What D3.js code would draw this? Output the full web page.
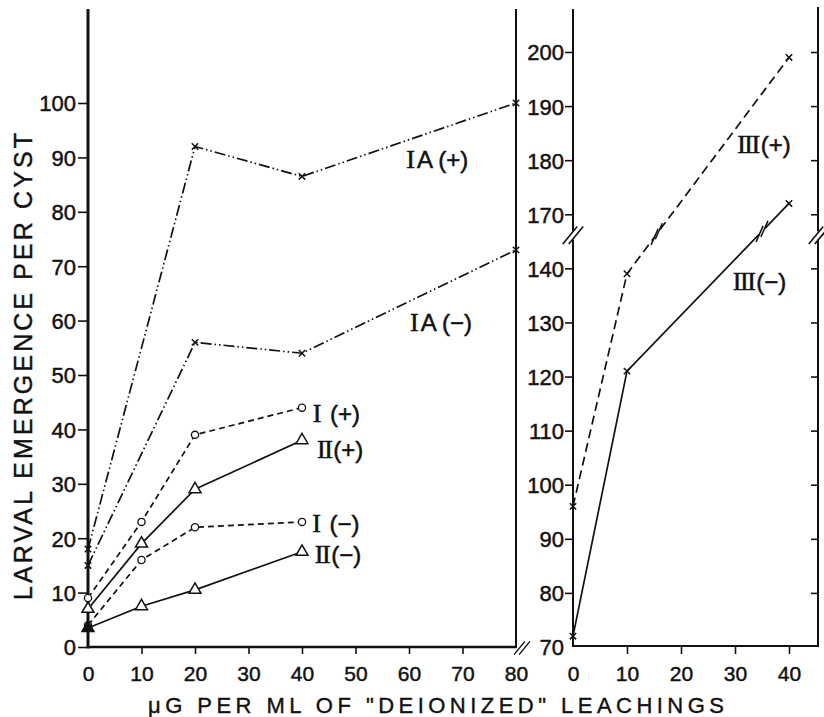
<!DOCTYPE html>
<html>
<head>
<meta charset="utf-8">
<script src="https://cdn.jsdelivr.net/npm/d3@7"></script>
<style>
  html, body { margin: 0; padding: 0; background: #fff; }
  svg { display: block; }
  text { font-family: "Liberation Sans", Arial, sans-serif; fill: #111; }
</style>
</head>
<body>
<svg id="chart" width="824" height="717"></svg>
<script>
// ---------------- data ----------------
const leftXTicks = [0, 10, 20, 30, 40, 50, 60, 70, 80];
const leftYTicks = [0, 10, 20, 30, 40, 50, 60, 70, 80, 90, 100];
const rightXTicks = [0, 10, 20, 30, 40];
const rightYTicks = [70, 80, 90, 100, 110, 120, 130, 140, 170, 180, 190, 200];

const iaDose = [0, 20, 40, 80];
const iaPlus = [18, 92, 86.5, 100];
const iaMinus = [15, 56, 54, 73];

const iDose = [0, 10, 20, 40];
const iPlus = [9, 23, 39, 44];
const iMinus = [4, 16, 22, 23];

const iiDose = [0, 10, 20, 40];
const iiPlus = [7, 19, 29, 38];
const iiMinus = [3.5, 7.5, 10.5, 17.5];

const iiiDose = [0, 10, 40];
const iiiPlus = [96, 139, 199];
const iiiMinus = [72, 121, 172];

const yTitle = "LARVAL EMERGENCE PER CYST";
const xTitle = "\u03bcG PER ML OF \"DEIONIZED\" LEACHINGS";

// ---------------- geometry ----------------
const svg = d3.select("#chart");
const x0L = 88, x1L = 516, yBase = 647;
const xL = d3.scaleLinear().domain([0, 80]).range([x0L, x1L]);
const yL = d3.scaleLinear().domain([0, 100]).range([yBase, 103]);
const xR = d3.scaleLinear().domain([0, 40]).range([573, 789]);
const yRraw = d3.scaleLinear().domain([70, 180]).range([yBase, 52]);
const BREAK_GAP = 20; // values >=170 are shifted down by 20 (axis break 140 -> 170)
const toRaw = v => (v >= 160 ? v - BREAK_GAP : v);
const yR = v => yRraw(toRaw(v));
const rightBorder = 818;
const topY = 9;

const ink = "#111";
const sansFont = "'Liberation Sans', Arial, sans-serif";

// ---------------- axes frames ----------------
svg.append("line").attr("x1", x0L).attr("x2", x0L).attr("y1", topY).attr("y2", yBase + 1.5)
  .attr("stroke", ink).attr("stroke-width", 3);
svg.append("line").attr("x1", x0L).attr("x2", x1L + 1).attr("y1", yBase).attr("y2", yBase)
  .attr("stroke", ink).attr("stroke-width", 2.5);
svg.append("line").attr("x1", xL(80)).attr("x2", xL(80)).attr("y1", topY).attr("y2", yBase)
  .attr("stroke", ink).attr("stroke-width", 2);
svg.append("line").attr("x1", xR(0)).attr("x2", xR(0)).attr("y1", topY).attr("y2", yBase)
  .attr("stroke", ink).attr("stroke-width", 2);
svg.append("line").attr("x1", xR(0)).attr("x2", rightBorder + 1).attr("y1", yBase - 1).attr("y2", yBase - 1)
  .attr("stroke", ink).attr("stroke-width", 2.2);
svg.append("line").attr("x1", rightBorder).attr("x2", rightBorder).attr("y1", topY - 2).attr("y2", yBase)
  .attr("stroke", ink).attr("stroke-width", 2);

// ---------------- ticks & labels via d3 axes ----------------
function styleAxis(g, size) {
  g.select(".domain").remove();
  g.selectAll(".tick line").attr("stroke", ink).attr("stroke-width", 1.6);
  g.selectAll(".tick text").attr("font-size", size).attr("fill", ink)
    .attr("stroke", ink).attr("stroke-width", 0.45)
    .style("font-family", sansFont);
}

const axL = svg.append("g").attr("transform", `translate(${x0L - 1},0)`)
  .call(d3.axisLeft(yL).tickValues(leftYTicks).tickSize(9).tickPadding(2).tickFormat(d3.format("d")));
styleAxis(axL, 22);
axL.selectAll(".tick text").attr("dy", "0.36em");

const axBL = svg.append("g").attr("transform", `translate(0,${yBase})`)
  .call(d3.axisBottom(xL).tickValues(leftXTicks).tickSize(7).tickPadding(12).tickFormat(d3.format("d")));
styleAxis(axBL, 21);
axBL.selectAll(".tick").filter(d => d === 0 || d === 80).select("line").remove();

const rawTicks = rightYTicks.map(toRaw);
const axR = svg.append("g").attr("transform", `translate(${xR(0)},0)`)
  .call(d3.axisLeft(yRraw).tickValues(rawTicks).tickSize(8).tickPadding(1)
    .tickFormat(d => d3.format("d")(d >= 150 ? d + BREAK_GAP : d)));
styleAxis(axR, 22);
axR.selectAll(".tick").filter(d => d === 70).select("line").remove();
axR.selectAll(".tick text").attr("dy", "0.36em");

const axRB = svg.append("g").attr("transform", `translate(${rightBorder},0)`)
  .call(d3.axisRight(yRraw).tickValues(rawTicks.filter(d => d !== 70)).tickSize(-7).tickFormat(""));
styleAxis(axRB, 1);

const axBR = svg.append("g").attr("transform", `translate(0,${yBase})`)
  .call(d3.axisBottom(xR).tickValues(rightXTicks).tickSize(7).tickPadding(12).tickFormat(d3.format("d")));
styleAxis(axBR, 21);
axBR.selectAll(".tick").filter(d => d === 0).select("line").remove();

// ---------------- axis break marks ----------------
function breakMark(cx, cy, len, gap, lw) {
  const g = svg.append("g");
  [-gap / 2, gap / 2].forEach(o => {
    g.append("line")
      .attr("x1", cx + o - len * 0.45).attr("y1", cy + len * 0.55)
      .attr("x2", cx + o + len * 0.45).attr("y2", cy - len * 0.55)
      .attr("stroke", ink).attr("stroke-width", lw);
  });
}
const yBreak = (yRraw(140) + yRraw(150)) / 2 - 6;
svg.append("rect").attr("x", xR(0) - 3).attr("y", yBreak - 4).attr("width", 6).attr("height", 8).attr("fill", "#fff");
breakMark(xR(0), yBreak, 16, 6, 1.6);
svg.append("rect").attr("x", rightBorder - 3).attr("y", yBreak - 4).attr("width", 6).attr("height", 8).attr("fill", "#fff");
breakMark(rightBorder + 1, yBreak, 16, 6, 1.6);
breakMark(xL(80) + 6, yBase + 1, 12, 5, 1.4);

// ---------------- series ----------------
const dashDotDot = "11,3,1.5,3,1.5,3";
const series = [
  { x: iaDose, y: iaPlus, sx: xL, sy: yL, dash: dashDotDot, marker: "x" },
  { x: iaDose, y: iaMinus, sx: xL, sy: yL, dash: dashDotDot, marker: "x" },
  { x: iDose, y: iPlus, sx: xL, sy: yL, dash: "6,4", marker: "o" },
  { x: iDose, y: iMinus, sx: xL, sy: yL, dash: "6,4", marker: "o" },
  { x: iiDose, y: iiPlus, sx: xL, sy: yL, dash: null, marker: "t" },
  { x: iiDose, y: iiMinus, sx: xL, sy: yL, dash: null, marker: "t", filledFirst: true },
  { x: iiiDose, y: iiiPlus, sx: xR, sy: yR, dash: "9,5", marker: "x", breakAt: 15.5 },
  { x: iiiDose, y: iiiMinus, sx: xR, sy: yR, dash: null, marker: "x", breakAt: 35 }
];

const lineGen = d3.line();
series.forEach(s => {
  const pts = s.x.map((xv, i) => [s.sx(xv), s.sy(s.y[i])]);
  svg.append("path").attr("d", lineGen(pts)).attr("fill", "none")
    .attr("stroke", ink).attr("stroke-width", 1.7)
    .attr("stroke-dasharray", s.dash);
  if (s.breakAt !== undefined) {
    const p1 = pts[1], p2 = pts[2];
    const bx = s.sx(s.breakAt);
    const t = (bx - p1[0]) / (p2[0] - p1[0]);
    const by = p1[1] + t * (p2[1] - p1[1]);
    const ang = Math.atan2(p2[1] - p1[1], p2[0] - p1[0]);
    svg.append("rect").attr("x", bx - 4).attr("y", by - 4).attr("width", 8).attr("height", 8)
      .attr("fill", "#fff").attr("transform", `rotate(${ang * 180 / Math.PI},${bx},${by})`);
    const ux = Math.cos(ang), uy = Math.sin(ang);
    [-3.5, 3.5].forEach(o => {
      const cx = bx + ux * o, cy = by + uy * o;
      svg.append("line")
        .attr("x1", cx - 3.5).attr("y1", cy + 8)
        .attr("x2", cx + 3.5).attr("y2", cy - 8)
        .attr("stroke", ink).attr("stroke-width", 1.5);
    });
  }
  pts.forEach((p, i) => {
    if (s.marker === "x") {
      const r = 3.2;
      svg.append("path").attr("d", `M${p[0]-r},${p[1]-r}L${p[0]+r},${p[1]+r}M${p[0]-r},${p[1]+r}L${p[0]+r},${p[1]-r}`)
        .attr("stroke", ink).attr("stroke-width", 1.5).attr("fill", "none");
    } else if (s.marker === "o") {
      svg.append("circle").attr("cx", p[0]).attr("cy", p[1]).attr("r", 3.6)
        .attr("fill", "#fff").attr("stroke", ink).attr("stroke-width", 1.3);
    } else if (s.marker === "t") {
      const filled = s.filledFirst && i === 0;
      svg.append("path").attr("d", d3.symbol(d3.symbolTriangle, 62)())
        .attr("transform", `translate(${p[0]},${p[1]})`)
        .attr("fill", filled ? ink : "#fff").attr("stroke", ink).attr("stroke-width", 1.5);
    }
  });
});

// ---------------- series labels ----------------
const labels = [
  { num: "I", rest: "A (+)", x: 59.5, y: 88, sx: xL, sy: yL },
  { num: "I", rest: "A (\u2212)", x: 60.2, y: 58, sx: xL, sy: yL },
  { num: "I", rest: " (+)", x: 42, y: 41.4, sx: xL, sy: yL },
  { num: "II", rest: "(+)", x: 42.8, y: 34.8, sx: xL, sy: yL },
  { num: "I", rest: " (\u2212)", x: 41.9, y: 21.1, sx: xL, sy: yL },
  { num: "II", rest: "(\u2212)", x: 42.4, y: 15.4, sx: xL, sy: yL },
  { num: "III", rest: "(+)", x: 30.4, y: 181.3, sx: xR, sy: yR },
  { num: "III", rest: "(\u2212)", x: 29.6, y: 136, sx: xR, sy: yR }
];
labels.forEach(l => {
  const t = svg.append("text").attr("x", l.sx(l.x)).attr("y", l.sy(l.y))
    .attr("font-size", 24).attr("stroke", ink).attr("stroke-width", 0.5);
  t.append("tspan").text(l.num)
    .style("font-family", "'Liberation Serif', 'Times New Roman', serif")
    .attr("font-size", 26).attr("letter-spacing", l.num.length > 1 ? -1.5 : 0);
  t.append("tspan").text(l.rest).attr("dx", 2).style("font-family", sansFont);
});

// ---------------- titles ----------------
svg.append("text")
  .attr("transform", `translate(32,${(133 + 600) / 2}) rotate(-90)`)
  .attr("text-anchor", "middle").attr("font-size", 25)
  .attr("stroke", ink).attr("stroke-width", 0.4)
  .attr("textLength", 467).attr("lengthAdjust", "spacing")
  .text(yTitle);

svg.append("text")
  .attr("x", 436).attr("y", 713)
  .attr("text-anchor", "middle").attr("font-size", 22)
  .attr("stroke", ink).attr("stroke-width", 0.4)
  .attr("textLength", 576).attr("lengthAdjust", "spacing")
  .text(xTitle);
</script>
</body>
</html>
